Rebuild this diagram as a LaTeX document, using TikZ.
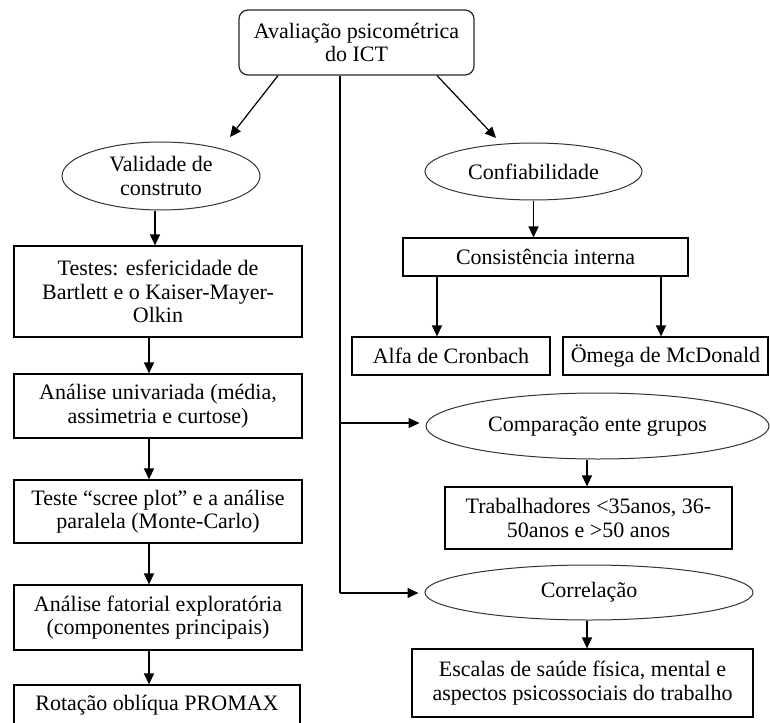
\documentclass[tikz,border=0pt]{standalone}
\usepackage{fontspec}
\setmainfont{Liberation Serif}
\usetikzlibrary{shapes.geometric,arrows.meta}
\begin{document}
\begin{tikzpicture}[x=1pt,y=-1pt,
  font=\fontsize{22}{23.5}\selectfont,
  every node/.style={inner sep=0pt,align=center,text=black},
  box/.style={draw=black,line width=1.2pt,rectangle},
  oval/.style={draw=black!80,line width=1pt,ellipse},
  arr/.style={draw=black,line width=1.2pt,-{Triangle[length=11pt,width=10pt]}},
  ln/.style={draw=black,line width=1.2pt}]
\useasboundingbox (0,0) rectangle (770,722);
\clip (0,0) rectangle (770,722);
% top
\node[box,draw=black!85,rounded corners=9pt,minimum width=235pt,minimum height=65pt] (top) at (356.5,42.5) {Avaliação psicométrica\\do ICT};
% left column
\node[oval,minimum width=198pt,minimum height=68pt] (val) at (161,176) {Validade de\\construto};
\node[box,minimum width=288pt,minimum height=91pt] (testes) at (158,291.5) {Testes: esfericidade de\\Bartlett e o Kaiser-Mayer-\\Olkin};
\node[box,minimum width=288pt,minimum height=64pt] (univ) at (158,406) {Análise univariada (média,\\assimetria e curtose)};
\node[box,minimum width=288pt,minimum height=63pt] (scree) at (158,511.5) {Teste “scree plot” e a análise\\paralela (Monte-Carlo)};
\node[box,minimum width=288pt,minimum height=65pt] (fat) at (158,617.5) {Análise fatorial exploratória\\(componentes principais)};
\node[box,minimum width=286pt,minimum height=40pt] (rot) at (157,705) {Rotação oblíqua PROMAX};
% right column
\node[oval,minimum width=217pt,minimum height=57pt] (conf) at (533.5,171.5) {Confiabilidade};
\node[box,minimum width=285pt,minimum height=38pt] (cons) at (545.5,257) {Consistência interna};
\node[box,minimum width=198pt,minimum height=38pt] (alfa) at (451,356) {Alfa de Cronbach};
\node[box,minimum width=205pt,minimum height=38pt] (omega) at (665.5,356) {Ömega de McDonald};
\node[oval,minimum width=343pt,minimum height=66pt] (cmp) at (597.5,426) {Comparação ente grupos};
\node[box,minimum width=287pt,minimum height=62pt] (trab) at (588.5,518) {Trabalhadores <35anos, 36-\\50anos e >50 anos};
\node[oval,minimum width=328pt,minimum height=55pt] (cor) at (589,592.5) {Correlação};
\node[box,minimum width=341pt,minimum height=68pt] (esc) at (582.5,683) {Escalas de saúde física, mental e\\aspectos psicossociais do trabalho};
% connector points
\coordinate (valtip) at (230,137);
\coordinate (conftip) at (496,138);
\coordinate (v0) at ([xshift=-16.5pt]top.south);
\coordinate (v1) at (340,423);
\coordinate (v2) at (340,593);
% connectors from top
\draw[arr] ([xshift=-78.5pt]top.south) -- (valtip);
\draw[arr] ([xshift=80.5pt]top.south) -- (conftip);
\draw[ln] (v0) -- (v2);
\draw[arr,shorten >=6pt] (v1) -- (cmp.west |- v1);
\draw[arr,shorten >=6pt] (v2) -- (cor.west |- v2);
% left column
\draw[arr] ([xshift=-6pt]val.south) -- ([xshift=-3pt]testes.north);
\draw[arr] ([xshift=-9pt]testes.south) -- ([xshift=-9pt]univ.north);
\draw[arr] ([xshift=-9pt]univ.south) -- ([xshift=-9pt]scree.north);
\draw[arr] ([xshift=-9pt]scree.south) -- ([xshift=-9pt]fat.north);
\draw[arr] ([xshift=-9pt]fat.south) -- ([xshift=-8pt]rot.north);
% right column
\draw[arr] (conf.south) -- ([xshift=-12pt]cons.north);
\draw[arr] ([xshift=-108.5pt]cons.south) -- ([xshift=-14pt]alfa.north);
\draw[arr] ([xshift=115.5pt]cons.south) -- ([xshift=-4.5pt]omega.north);
\draw[arr] ([xshift=-10.5pt]cmp.south) -- ([xshift=-1.5pt]trab.north);
\draw[arr] ([xshift=-2pt]cor.south) -- ([xshift=4.5pt]esc.north);
\end{tikzpicture}
\end{document}
